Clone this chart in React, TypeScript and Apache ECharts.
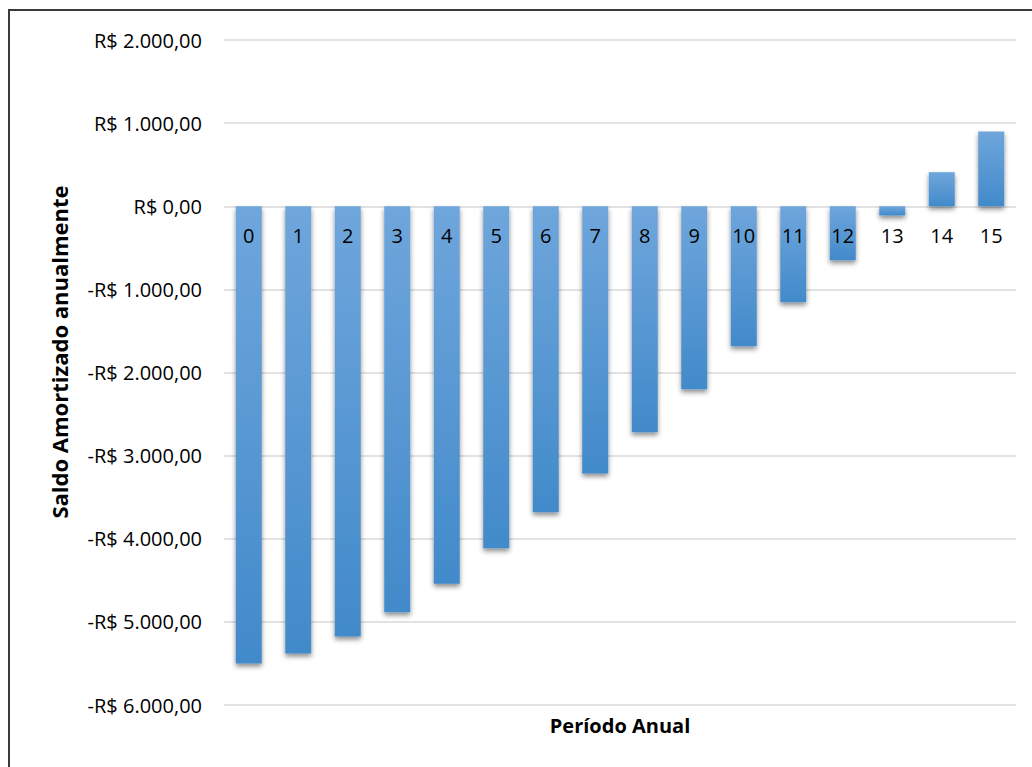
import React, { useEffect, useRef } from "react";
import * as echarts from "echarts";

const categories = ["0", "1", "2", "3", "4", "5", "6", "7", "8", "9", "10", "11", "12", "13", "14", "15"];
const saldo = [-5500, -5380, -5175, -4885, -4540, -4115, -3680, -3215, -2720, -2200, -1685, -1155, -650, -110, 410, 900];
const yTitle = "Saldo Amortizado anualmente";
const xTitle = "Período Anual";

function fmt(v: number): string {
  const neg = v < 0;
  const a = Math.abs(v);
  const int = Math.floor(a).toString().replace(/\B(?=(\d{3})+(?!\d))/g, ".");
  return (neg ? "-" : "") + "R$ " + int + ",00";
}

export default function App() {
  const ref = useRef<HTMLDivElement>(null);
  useEffect(() => {
    document.body.style.margin = "0";
    const chart = echarts.init(ref.current!, null, { renderer: "svg" });
    const font = "Open Sans";
    chart.setOption({
      animation: false,
      backgroundColor: "#ffffff",
      grid: { left: 224, right: 16, top: 40, bottom: 62 },
      xAxis: {
        type: "category",
        data: categories,
        z: 10,
        position: "bottom",
        offset: -499,
        axisLine: { show: false, onZero: false },
        axisTick: { show: false },
        axisLabel: { color: "#000", fontSize: 20, fontFamily: font, margin: 19 },
      },
      yAxis: {
        type: "value",
        min: -6000,
        max: 2000,
        interval: 1000,
        axisLine: { show: false },
        axisTick: { show: false },
        splitLine: { lineStyle: { color: "#d9d9d9", width: 1.5 } },
        axisLabel: { color: "#000", fontSize: 20, fontFamily: font, margin: 22, formatter: (v: number) => fmt(v) },
      },
      series: [
        {
          type: "bar",
          data: saldo,
          barWidth: 26,
          itemStyle: {
            color: new echarts.graphic.LinearGradient(0, 0, 0, 1, [
              { offset: 0, color: "#6fa6dc" },
              { offset: 1, color: "#428aca" },
            ]),
            shadowColor: "rgba(0,0,0,0.45)",
            shadowBlur: 5,
            shadowOffsetY: 3,
          },
        },
      ],
      graphic: [
        {
          type: "rect",
          shape: { x: 9, y: 10, width: 1040, height: 780 },
          style: { fill: "none", stroke: "#3a3a3a", lineWidth: 2 },
          silent: true,
        },
        {
          type: "text",
          x: 59,
          y: 352,
          rotation: Math.PI / 2,
          style: {
            text: yTitle,
            fontSize: 22,
            fontWeight: "bold",
            fontFamily: font,
            fill: "#000",
            align: "center",
            verticalAlign: "middle",
          },
        },
        {
          type: "text",
          x: 620,
          y: 725,
          style: {
            text: xTitle,
            fontSize: 20,
            fontWeight: "bold",
            fontFamily: font,
            fill: "#000",
            align: "center",
            verticalAlign: "middle",
          },
        },
      ],
    });
    return () => chart.dispose();
  }, []);
  return <div ref={ref} style={{ width: 1032, height: 767 }} />;
}
